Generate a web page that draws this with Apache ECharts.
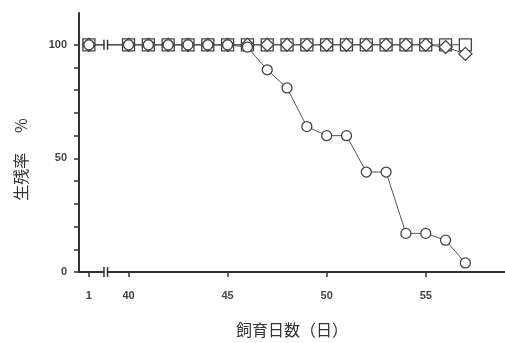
<!DOCTYPE html>
<html><head><meta charset="utf-8">
<script src="https://cdn.jsdelivr.net/npm/echarts@6/dist/echarts.min.js"></script>
<style>html,body{margin:0;padding:0;background:#fff}#c{width:505px;height:343px}</style>
</head><body><div id="c"></div>
<script>
// Days (day 1, then 40..57)
const days = [1, 40, 41, 42, 43, 44, 45, 46, 47, 48, 49, 50, 51, 52, 53, 54, 55, 56, 57];
// Survival rate (%)
const circleVals  = [100, 100, 100, 100, 100, 100, 100, 99, 89, 81, 64, 60, 60, 44, 44, 17, 17, 14, 4];
const diamondVals = [100, 100, 100, 100, 100, 100, 100, 100, 100, 100, 100, 100, 100, 100, 100, 100, 100, 99, 96];
const squareVals  = [100, 100, 100, 100, 100, 100, 100, 100, 100, 100, 100, 100, 100, 100, 100, 100, 100, 100, 100];
const xTickDays = [1, 40, 45, 50, 55];
const yTickLabels = [0, 50, 100];
const yMinorTicks = [0, 10, 20, 30, 40, 50, 60, 70, 80, 90, 100];

// broken axis: day 1 is drawn just left of the break
const DAY1_POS = 38;
const BREAK_L = 38.76, BREAK_R = 38.94;
const pos = d => d === 1 ? DAY1_POS : d;
const label = v => (Math.abs(v - DAY1_POS) < 1e-6 ? '1' : String(v));

const mk = vals => days.map((d, i) => [pos(d), vals[i]]);
const ink = '#444';

const chart = echarts.init(document.getElementById('c'));
const lineSeries = (name, vals, symbol, size, z) => ({
  name, type: 'line', data: mk(vals), symbol, symbolSize: size, z,
  showAllSymbol: true, animation: false,
  lineStyle: { color: '#555', width: 1 },
  itemStyle: { color: '#fff', borderColor: ink, borderWidth: 1.3 }
});

chart.setOption({
  animation: false,
  grid: { left: 79, right: 0, top: 13, bottom: 70 },
  xAxis: {
    type: 'value', min: 37.5, max: 59,
    name: '飼育日数（日）', nameLocation: 'middle', nameGap: 50,
    nameTextStyle: { fontSize: 16, color: '#333', fontFamily: 'Noto Sans CJK JP' },
    axisLine: { lineStyle: { color: '#333', width: 2 } },
    axisTick: { show: true, length: 5, lineStyle: { color: '#333', width: 1.5 },
      customValues: xTickDays.map(pos) },
    axisLabel: { customValues: xTickDays.map(pos), formatter: label, margin: 18,
      fontSize: 11, fontWeight: 'bold', color: '#444', fontFamily: 'Liberation Sans' },
    splitLine: { show: false }
  },
  yAxis: {
    type: 'value', min: 0, max: 114,
    name: '生残率　 %', nameLocation: 'middle', nameGap: 50, nameRotate: 90,
    nameTextStyle: { fontSize: 16, color: '#333', fontFamily: 'Noto Sans CJK JP', padding: [0, 34, 0, 0] },
    axisLine: { show: true, lineStyle: { color: '#333', width: 2 } },
    axisTick: { show: true, length: 5, lineStyle: { color: '#333', width: 1.5 }, customValues: yMinorTicks },
    axisLabel: { customValues: yTickLabels, margin: 12, fontSize: 11, fontWeight: 'bold',
      color: '#444', fontFamily: 'Liberation Sans' },
    splitLine: { show: false }
  },
  series: [
    lineSeries('square', squareVals, 'rect', 12, 2),
    lineSeries('diamond', diamondVals, 'diamond', 13, 3),
    lineSeries('circle', circleVals, 'circle', 10, 4),
    {
      type: 'custom', z: 10, clip: false, silent: true, animation: false,
      data: [[BREAK_L, BREAK_R]],
      renderItem: (params, api) => {
        const l = api.value(0), r = api.value(1);
        const items = [];
        [0, 100].forEach(yv => {
          const pl = api.coord([l, yv]), pr = api.coord([r, yv]);
          items.push({ type: 'rect', shape: { x: pl[0], y: pl[1] - 3, width: pr[0] - pl[0], height: 6 },
            style: { fill: '#fff' } });
          const h = 5;
          [pl, pr].forEach(p => items.push({ type: 'line',
            shape: { x1: p[0], y1: p[1] - h, x2: p[0], y2: p[1] + h },
            style: { stroke: '#333', lineWidth: 1.5 } }));
        });
        return { type: 'group', children: items };
      }
    }
  ]
});
</script></body></html>
